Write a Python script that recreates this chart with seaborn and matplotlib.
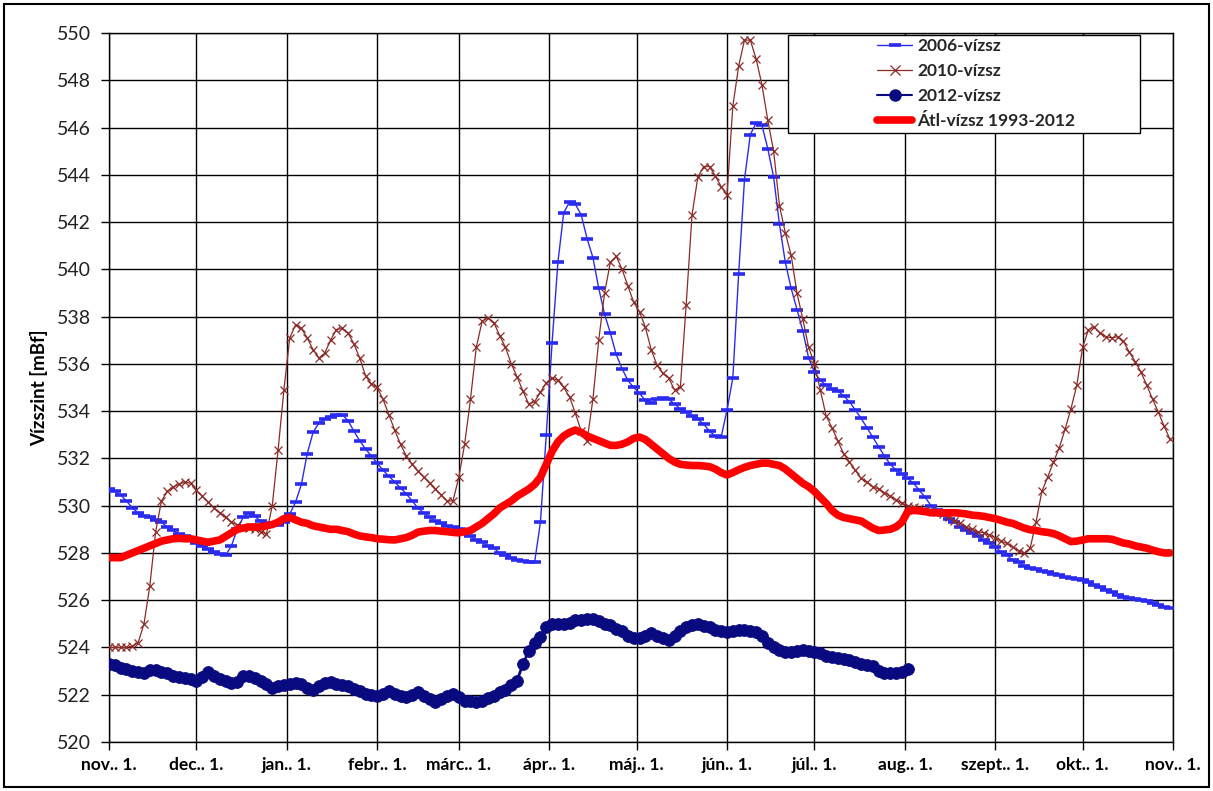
import numpy as np
import matplotlib
matplotlib.use("Agg")
import matplotlib.pyplot as plt
import seaborn as sns
from matplotlib.patches import Rectangle
from matplotlib.lines import Line2D

# Season axis: days counted from 1 November
month_ticks = [0, 30, 61, 92, 120, 151, 181, 212, 242, 273, 304, 334, 365]
month_labels = ["nov.. 1.", "dec.. 1.", "jan.. 1.", "febr.. 1.", "márc.. 1.",
                "ápr.. 1.", "máj.. 1.", "jún.. 1.", "júl.. 1.", "aug.. 1.",
                "szept.. 1.", "okt.. 1.", "nov.. 1."]
y_ticks = list(range(520, 551, 2))

days = np.arange(0, 366, 2)

level_2006 = [
    530.7, 530.6, 530.45, 530.2, 529.9, 529.7, 529.55, 529.5, 529.4, 529.3,
    529.1, 528.95, 528.8, 528.7, 528.55, 528.4, 528.3, 528.15, 528.05, 527.95,
    527.9, 528.3, 529.0, 529.5, 529.7, 529.55, 529.35, 529.25, 529.2, 529.2,
    529.3, 529.65, 530.15, 530.9, 532.2, 533.1, 533.5, 533.65, 533.75, 533.85,
    533.85, 533.6, 533.15, 532.75, 532.4, 532.1, 531.8, 531.5, 531.25, 531.0,
    530.75, 530.5, 530.2, 529.9, 529.7, 529.5, 529.35, 529.25, 529.15, 529.1,
    529.0, 528.9, 528.7, 528.55, 528.45, 528.3, 528.2, 528.0, 527.9, 527.8,
    527.7, 527.65, 527.6, 527.6, 529.3, 533.0, 536.9, 540.3, 542.4, 542.85,
    542.75, 542.3, 541.3, 540.5, 539.2, 538.1, 537.3, 536.4, 535.8, 535.3,
    535.0, 534.75, 534.45, 534.35, 534.5, 534.55, 534.5, 534.3, 534.1, 533.95,
    533.8, 533.65, 533.45, 533.15, 532.95, 532.9, 534.05, 535.4, 539.8, 543.8,
    545.7, 546.2, 546.1, 545.1, 543.9, 541.9, 540.3, 539.2, 538.3, 537.4,
    536.25, 535.65, 535.3, 535.1, 534.95, 534.85, 534.65, 534.4, 534.05, 533.7,
    533.3, 532.9, 532.5, 532.1, 531.75, 531.5, 531.35, 531.15, 530.95, 530.65,
    530.35, 530.0, 529.8, 529.6, 529.45, 529.3, 529.1, 528.95, 528.85, 528.7,
    528.55, 528.4, 528.25, 528.05, 527.9, 527.7, 527.6, 527.45, 527.35, 527.3,
    527.25, 527.2, 527.12, 527.05, 527.0, 526.95, 526.9, 526.85, 526.78, 526.65,
    526.55, 526.45, 526.35, 526.2, 526.12, 526.08, 526.04, 526.0, 525.95, 525.88,
    525.8, 525.73, 525.67,
]

level_2010 = [
    524.0, 524.0, 524.0, 524.0, 524.05, 524.2, 525.0, 526.6, 528.9, 530.2,
    530.6, 530.8, 530.9, 531.0, 530.95, 530.65, 530.4, 530.15, 529.9, 529.7,
    529.5, 529.3, 529.2, 529.1, 529.07, 529.0, 528.9, 528.8, 530.0, 532.35,
    534.9, 537.1, 537.65, 537.5, 537.1, 536.6, 536.25, 536.45, 537.0, 537.45,
    537.5, 537.3, 536.85, 536.25, 535.5, 535.15, 535.0, 534.5, 533.85, 533.2,
    532.6, 532.1, 531.75, 531.45, 531.2, 530.95, 530.7, 530.45, 530.2, 530.2,
    531.2, 532.6, 534.5, 536.7, 537.8, 537.95, 537.75, 537.2, 536.7, 536.0,
    535.45, 534.85, 534.3, 534.4, 534.8, 535.2, 535.4, 535.3, 535.0, 534.6,
    533.9, 533.15, 532.75, 534.5, 537.0, 539.0, 540.3, 540.55, 540.0, 539.3,
    538.6, 538.2, 537.55, 536.6, 535.95, 535.6, 535.4, 534.9, 535.0, 538.5,
    542.3, 543.9, 544.35, 544.35, 543.95, 543.5, 543.15, 546.9, 548.6, 549.7,
    549.7, 548.9, 547.8, 546.3, 545.0, 542.7, 541.55, 540.6, 539.0, 537.9,
    536.7, 536.0, 534.9, 533.8, 533.3, 532.75, 532.2, 531.85, 531.5, 531.15,
    531.0, 530.8, 530.7, 530.55, 530.4, 530.25, 530.1, 530.0, 529.95, 529.9,
    529.8, 529.77, 529.72, 529.65, 529.5, 529.35, 529.25, 529.1, 529.0, 528.9,
    528.85, 528.75, 528.65, 528.5, 528.4, 528.25, 528.1, 528.0, 528.2, 529.3,
    530.6, 531.2, 531.85, 532.45, 533.25, 534.1, 535.1, 536.7, 537.45, 537.55,
    537.3, 537.15, 537.1, 537.15, 536.95, 536.5, 536.1, 535.65, 535.1, 534.5,
    533.95, 533.35, 532.8,
]

days_2012 = np.arange(0, 276, 2)
level_2012 = [
    523.3, 523.25, 523.15, 523.1, 523.0, 522.95, 522.9, 523.05, 523.05, 522.95,
    522.9, 522.8, 522.75, 522.7, 522.65, 522.6, 522.75, 522.95, 522.8, 522.65,
    522.6, 522.5, 522.55, 522.8, 522.8, 522.7, 522.6, 522.45, 522.3, 522.35,
    522.4, 522.45, 522.5, 522.45, 522.3, 522.2, 522.35, 522.5, 522.55, 522.45,
    522.4, 522.35, 522.25, 522.15, 522.05, 522.0, 521.95, 522.05, 522.15, 522.05,
    521.95, 521.9, 522.0, 522.1, 521.95, 521.8, 521.7, 521.8, 521.95, 522.05,
    521.9, 521.75, 521.72, 521.7, 521.75, 521.85, 521.95, 522.1, 522.2, 522.4,
    522.6, 523.3, 523.85, 524.2, 524.45, 524.85, 525.0, 525.0, 525.0, 525.05,
    525.15, 525.15, 525.2, 525.2, 525.1, 525.0, 524.95, 524.8, 524.7, 524.5,
    524.4, 524.4, 524.5, 524.6, 524.5, 524.4, 524.3, 524.5, 524.7, 524.85,
    524.95, 525.0, 524.9, 524.85, 524.75, 524.7, 524.65, 524.7, 524.75, 524.75,
    524.7, 524.65, 524.5, 524.2, 524.0, 523.9, 523.8, 523.8, 523.85, 523.9,
    523.85, 523.8, 523.75, 523.65, 523.6, 523.55, 523.5, 523.45, 523.4, 523.3,
    523.25, 523.2, 523.0, 522.9, 522.9, 522.9, 522.95, 523.1,
]

level_avg = [
    527.8, 527.8, 527.8, 527.9, 528.0, 528.1, 528.2, 528.3, 528.4, 528.5,
    528.55, 528.6, 528.62, 528.6, 528.6, 528.55, 528.5, 528.45, 528.5, 528.55,
    528.7, 528.85, 529.0, 529.05, 529.1, 529.1, 529.1, 529.15, 529.2, 529.3,
    529.45, 529.5, 529.4, 529.3, 529.25, 529.15, 529.1, 529.05, 529.0, 529.0,
    528.95, 528.9, 528.8, 528.72, 528.68, 528.65, 528.6, 528.58, 528.56, 528.55,
    528.6, 528.65, 528.75, 528.88, 528.92, 528.95, 528.95, 528.92, 528.9, 528.87,
    528.85, 528.9, 528.95, 529.1, 529.25, 529.45, 529.65, 529.9, 530.05, 530.2,
    530.4, 530.55, 530.7, 530.9, 531.2, 531.75, 532.3, 532.7, 532.95, 533.1,
    533.2, 533.1, 532.95, 532.85, 532.75, 532.65, 532.55, 532.55, 532.6, 532.7,
    532.85, 532.9, 532.8, 532.6, 532.4, 532.2, 532.0, 531.85, 531.75, 531.72,
    531.7, 531.7, 531.68, 531.65, 531.55, 531.4, 531.3, 531.4, 531.52, 531.62,
    531.7, 531.75, 531.8, 531.8, 531.75, 531.7, 531.55, 531.35, 531.15, 530.95,
    530.8, 530.6, 530.35, 530.1, 529.8, 529.6, 529.5, 529.45, 529.4, 529.35,
    529.2, 529.05, 528.95, 528.97, 529.0, 529.1, 529.3, 529.75, 529.8, 529.78,
    529.75, 529.7, 529.7, 529.7, 529.7, 529.7, 529.68, 529.65, 529.6, 529.58,
    529.55, 529.5, 529.45, 529.38, 529.3, 529.25, 529.15, 529.05, 528.98, 528.95,
    528.9, 528.87, 528.82, 528.72, 528.6, 528.48, 528.5, 528.55, 528.6, 528.6,
    528.6, 528.6, 528.58, 528.5, 528.42, 528.38, 528.3, 528.25, 528.2, 528.12,
    528.05, 528.0, 528.0,
]

series_labels = ["2006-vízsz", "2010-vízsz", "2012-vízsz", "Átl-vízsz 1993-2012"]
y_label = "Vízszint [mBf]"

c2006 = "#2b2bf0"
c2010 = "#8c2a26"
c2012 = "#0a0a80"
cavg = "#ff0000"

sns.set_theme(style="white")
plt.rcParams["font.family"] = ["Lato", "DejaVu Sans"]

fig = plt.figure(figsize=(12.13, 7.91), dpi=100)
ax = fig.add_axes([109 / 1213, 1 - 742 / 791, (1173 - 109) / 1213, (742 - 33) / 791])

sns.lineplot(x=days, y=level_2006, ax=ax, color=c2006, lw=1.0, marker="_",
             ms=9, mew=2.6, mec=c2006, zorder=3, legend=False)
sns.lineplot(x=days, y=level_2010, ax=ax, color=c2010, lw=0.9, marker="x",
             ms=6, mew=0.9, mec=c2010, zorder=4, legend=False)
sns.lineplot(x=days_2012, y=level_2012, ax=ax, color=c2012, lw=2.0, marker="o",
             ms=8.5, mew=0.6, mec=c2012, mfc=c2012, zorder=5, legend=False)
sns.lineplot(x=days, y=level_avg, ax=ax, color=cavg, lw=5.5, zorder=6,
             legend=False)

ax.set_xlim(0, 365)
ax.set_ylim(520, 550)
ax.set_xticks(month_ticks)
ax.set_xticklabels(month_labels, fontsize=12.5, fontweight="bold", color="black")
ax.set_yticks(y_ticks)
ax.set_yticklabels([str(v) for v in y_ticks], fontsize=14, color="#222222")
ax.set_xlabel("")
ax.set_ylabel(y_label, fontsize=13.5, fontweight="bold", color="black", labelpad=6)

ax.grid(True, color="black", lw=1.0)
ax.set_axisbelow(True)
for sp in ax.spines.values():
    sp.set_color("black")
    sp.set_linewidth(1.0)
ax.tick_params(axis="both", which="major", direction="out", length=6,
               width=1.0, color="black", left=True, bottom=True)
ax.tick_params(axis="y", pad=7)
ax.tick_params(axis="x", pad=5)

# Legend box with entries centred inside it
ax.add_patch(Rectangle((0.638, 0.859), 0.331, 0.138, transform=ax.transAxes,
                       facecolor="white", edgecolor="black", lw=1.0, zorder=8))
handles = [
    Line2D([], [], color=c2006, lw=1.0, marker="_", ms=9, mew=2.6),
    Line2D([], [], color=c2010, lw=0.9, marker="x", ms=6.5, mew=0.9),
    Line2D([], [], color=c2012, lw=1.5, marker="o", ms=8, mec=c2012),
    Line2D([], [], color=cavg, lw=5.5),
]
leg = ax.legend(handles, series_labels, loc="upper left",
                bbox_to_anchor=(0.722, 0.993), frameon=False, borderpad=0,
                borderaxespad=0, handlelength=2.0, handletextpad=0.3,
                labelspacing=0.52, prop={"size": 12.5, "weight": "bold"})
leg.set_zorder(9)

# Outer frame round the whole figure
fig.add_artist(Rectangle((4 / 1213, 4 / 791), 1 - 8 / 1213, 1 - 8 / 791,
                         transform=fig.transFigure, fill=False,
                         edgecolor="black", lw=1.5))

fig.savefig("out.png", dpi=100)
